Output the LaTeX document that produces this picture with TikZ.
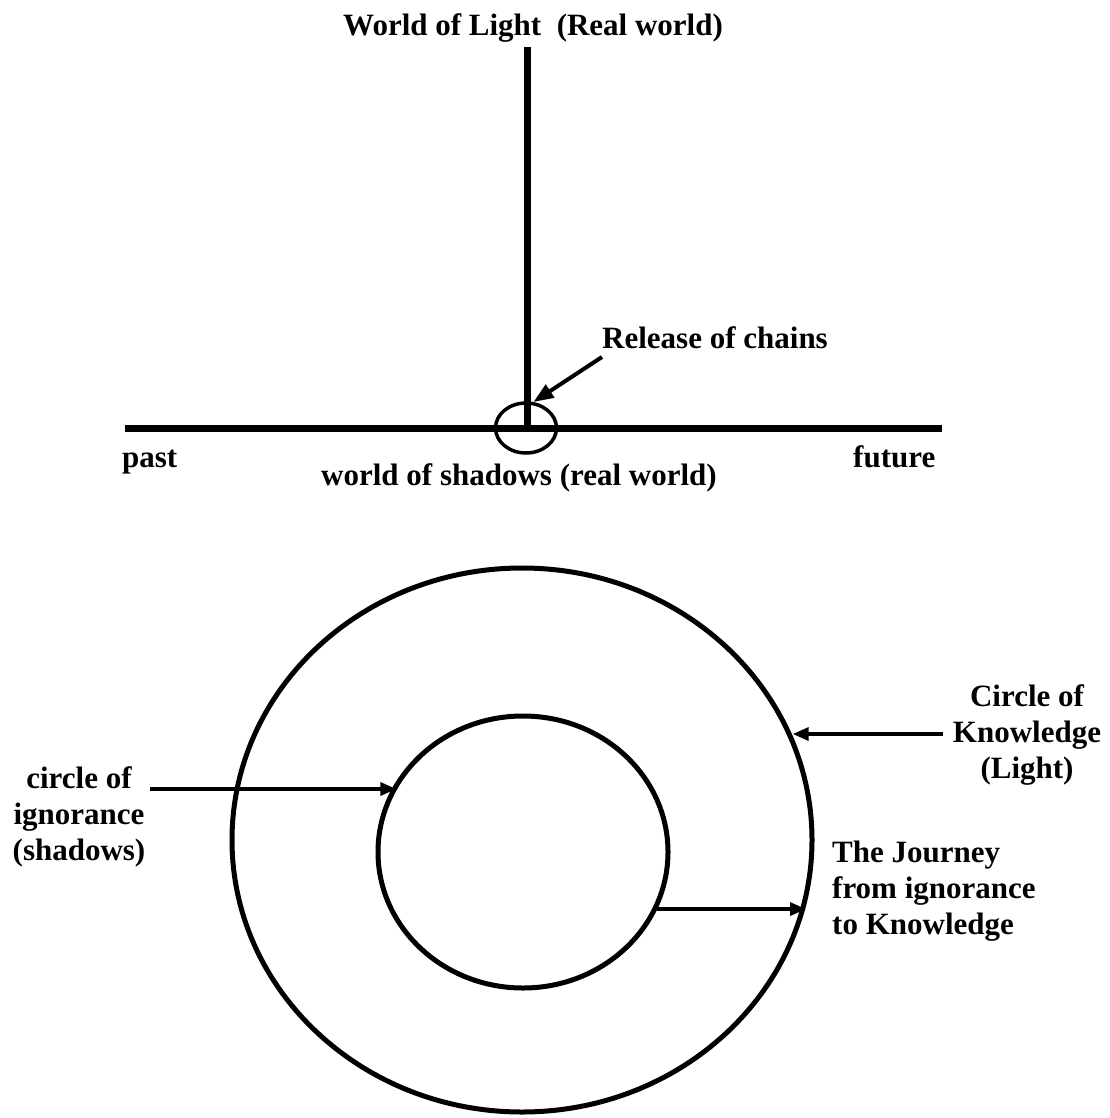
\documentclass[tikz,border=0pt]{standalone}
\usepackage{fontspec}
\setmainfont{Liberation Serif}
\usetikzlibrary{shapes.geometric,arrows.meta}
\tikzset{
  lbl/.style={inner sep=0pt, font=\bfseries\fontsize{31}{36}\selectfont},
  heavy/.style={line width=7pt},
  ring/.style={ellipse, draw, line width=5pt, inner sep=0pt},
  conn/.style={line width=3.3pt, -{Triangle[length=16pt,width=13pt]}},
}
\begin{document}
\begin{tikzpicture}[x=1pt,y=-1pt]
\useasboundingbox (0,0) rectangle (1109,1118);
% top diagram
\coordinate (top) at (527,47);
\coordinate (mid) at (527,428);
\coordinate (L) at (125,428);
\coordinate (R) at (942,428);
\draw[heavy] (top) -- (mid);
\draw[heavy] (L) -- (R);
\node[ellipse, draw, line width=3.5pt, inner sep=0pt, minimum width=61pt, minimum height=50pt] (small) at (526,428) {};
\node[lbl, anchor=base west] (title) at (343,36) {World of Light\ \ (Real world)};
\node[lbl, anchor=base west] (rel) at (602,348) {Release of chains};
\coordinate (rs) at (602,357);
\draw[line width=4pt, -{Triangle[length=20pt,width=15pt]}] (rs) -- (small.74);
\node[lbl, anchor=base west] (past) at (122,467) {past};
\node[lbl, anchor=base west] (future) at (853,467) {future};
\node[lbl, anchor=base west] (shadow) at (321,485) {world of shadows (real world)};
% bottom diagram
\node[ring, minimum width=580pt, minimum height=544pt] (outer) at (522,840) {};
\node[ring, minimum width=290pt, minimum height=272pt] (inner) at (523,852) {};
\node[lbl, align=center, anchor=base] (know) at (1027,778) {Circle of\\Knowledge\\(Light)};
\node[lbl, align=center, anchor=base] (ign) at (79,860) {circle of\\ignorance\\(shadows)};
\node[lbl, align=left, anchor=base west] (jour) at (832,934) {The Journey\\from ignorance\\to Knowledge};
\coordinate (ks) at (943,734);
\coordinate (cs) at (150,789);
\draw[conn] (ks) -- (ks -| outer.21.7);
\draw[conn, shorten >=-3pt] (cs) -- (cs -| inner.153.9);
\draw[conn] (inner.-23.0) -- (inner.-23.0 -| outer.-13.6);
\end{tikzpicture}
\end{document}
